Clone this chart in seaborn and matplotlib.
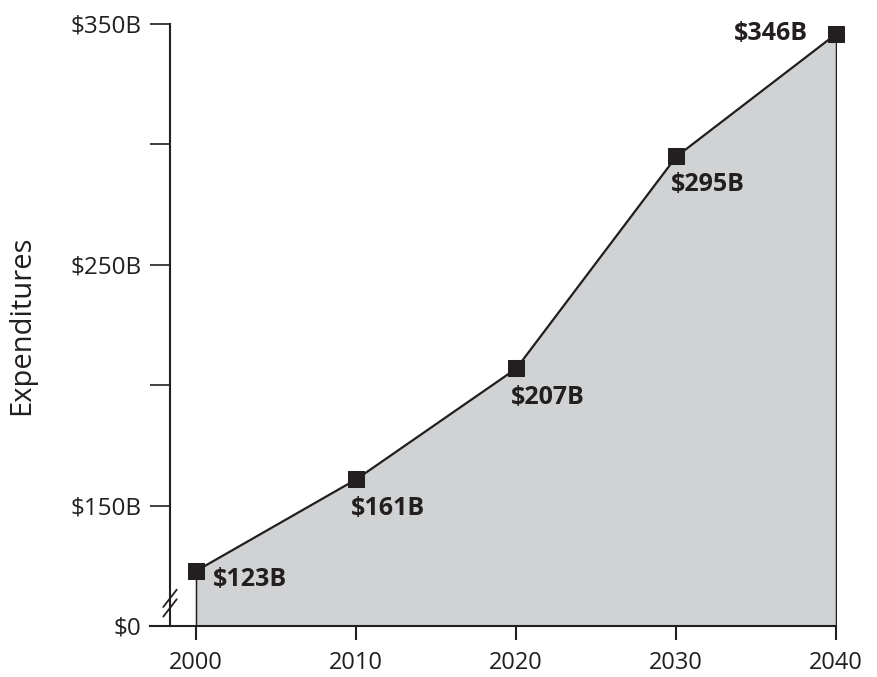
import matplotlib
matplotlib.use("Agg")
import matplotlib.pyplot as plt
import seaborn as sns
import pandas as pd

years = [2000, 2010, 2020, 2030, 2040]
values = [123, 161, 207, 295, 346]
labels = ["$123B", "$161B", "$207B", "$295B", "$346B"]
ytick_vals = [100, 150, 200, 250, 300, 350]
ytick_labels = ["$0", "$150B", "", "$250B", "", "$350B"]
# label offsets in points (dx, dy, ha, va)
label_pos = [(12, -6.5, "left", "center"), (-4, -12, "left", "top"),
             (-4, -12, "left", "top"), (-4, -11, "left", "top"),
             (-20, 0, "right", "center")]

sns.set_style("ticks")
plt.rcParams["font.family"] = ["Open Sans", "DejaVu Sans"]

ink = "#231f20"
df = pd.DataFrame({"year": years, "value": values})

fig = plt.figure(figsize=(8.77, 6.77), dpi=100)
ax = fig.add_axes([150/877, 1 - 626/677, 686/877, 602/677])

ax.fill_between(df["year"], df["value"], 100, color="#d1d2d4",
                edgecolor=ink, linewidth=1.1, zorder=1)
sns.lineplot(data=df, x="year", y="value", ax=ax, color=ink, linewidth=1.1,
             marker="s", markersize=11.5, markeredgecolor=ink, zorder=3)
for l in ax.lines:
    l.set_clip_on(False)

for x, y, t, (dx, dy, ha, va) in zip(years, values, labels, label_pos):
    ax.annotate(t, (x, y), xytext=(dx, dy), textcoords="offset points",
                ha=ha, va=va, fontsize=18, fontweight="bold", color=ink)

ax.set_xlim(2000 - 46/16, 2040)
ax.set_ylim(100, 350)
ax.set_xticks(years)
ax.set_xticklabels([str(y) for y in years])
ax.set_yticks(ytick_vals)
ax.set_yticklabels(ytick_labels)

for s in ["top", "right"]:
    ax.spines[s].set_visible(False)
bx = 2000 - 26/16
ax.spines["left"].set_position(("data", bx))
for s in ["left", "bottom"]:
    ax.spines[s].set_linewidth(1.5)
    ax.spines[s].set_color(ink)

ax.tick_params(axis="y", length=14.4, width=1.2, pad=6, labelsize=17.5,
               colors=ink, direction="out")
ax.tick_params(axis="x", length=10, width=1.5, pad=8, labelsize=17,
               colors=ink, direction="out")

ax.set_xlabel("")
ax.set_ylabel("Expenditures", fontsize=21, color=ink)
ax.yaxis.set_label_coords(-0.166, 0.5)

# axis break marks
for yc in [107.5, 111.5]:
    ax.plot([bx - 0.42, bx + 0.42], [yc - 3.6, yc + 3.6],
            color=ink, linewidth=1.3, clip_on=False, zorder=4)

fig.savefig("out.png", dpi=100)
